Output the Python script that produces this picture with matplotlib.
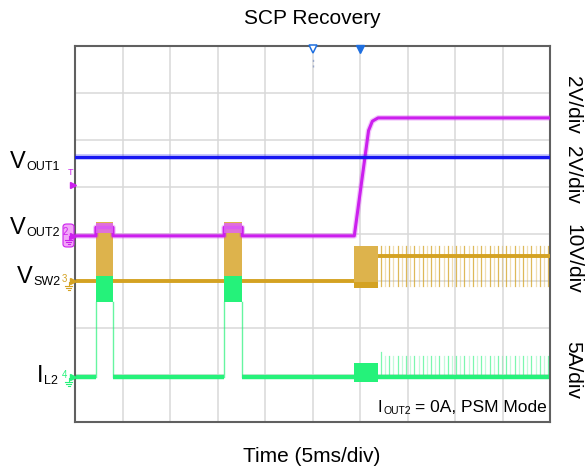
import numpy as np
import matplotlib.pyplot as plt
from matplotlib.patches import FancyBboxPatch
from matplotlib.lines import Line2D

plt.rcParams['font.family'] = ['Liberation Sans', 'DejaVu Sans']

W, H = 587, 471

# screen: 10 div x 5 ms, 8 vertical div
t_span = [0, 50]
v_span = [0, 8]

# trace levels, in divisions from the bottom of the screen
vout1_lvl = 5.64
vout2_lvl = 3.96
vout2_burst_lvl = 4.14
vout2_ramp_t = [29.4, 30.9, 31.3, 31.9, 50.0]
vout2_ramp_v = [3.96, 6.2, 6.4, 6.47, 6.47]
vsw2_lvl = 3.0
vsw2_after_lvl = 3.53
il2_lvl = 0.95

# hiccup bursts (ms)
burst_start = [2.2, 15.7]
burst_end = [4.0, 17.6]
sw_burst_top = 4.25
il_burst_lo, il_burst_hi = 2.55, 3.1

# recovery burst (ms) and its extents
rec_start, rec_end = 29.4, 31.9
sw_rec_lo, sw_rec_hi = 2.85, 3.74
il_rec_lo, il_rec_hi = 0.85, 1.25

# PSM pulses after recovery
psm_start, psm_period = 32.2, 0.44
sw_psm_lo, sw_psm_hi = 2.9, 3.75
il_psm_hi = 1.4

c_blue = '#1717F2'
c_mag = '#CC1FEE'
c_gold = '#D4A222'
c_gold_l = '#DDB34C'
c_green = '#25F27A'

fig = plt.figure(figsize=(W / 100, H / 100), dpi=100)
ax = fig.add_axes([75 / W, 1 - 422 / H, 475 / W, 376 / H])
ax.set_xlim(t_span)
ax.set_ylim(v_span)
ax.set_xticks(np.arange(0, 51, 5))
ax.set_yticks(np.arange(0, 9, 1))
ax.grid(True, color='#D9D9D9', lw=1.1)
ax.tick_params(length=0, labelbottom=False, labelleft=False)
for s in ax.spines.values():
    s.set_color('#606060')
    s.set_linewidth(1.5)
ax.set_axisbelow(True)

pulses = np.arange(psm_start, t_span[1], psm_period)
alphas = np.resize([0.75, 0.35], len(pulses))

# VSW2
ax.plot([0, rec_start], [vsw2_lvl, vsw2_lvl], color=c_gold, lw=2.8, zorder=2)
for s, e in zip(burst_start, burst_end):
    ax.fill_between([s, e], vsw2_lvl - 0.04, sw_burst_top, color=c_gold_l, lw=0, zorder=2)
ax.plot([rec_end, 50], [vsw2_after_lvl, vsw2_after_lvl], color=c_gold, lw=2.8, zorder=3)
for p, a in zip(pulses, alphas):
    ax.plot([p, p], [sw_psm_lo, sw_psm_hi], color=c_gold, lw=0.9, alpha=a, zorder=2)

# IL2
ax.plot([0, 50], [il2_lvl, il2_lvl], color=c_green, lw=3.2, zorder=2)
for s, e in zip(burst_start, burst_end):
    ax.fill_between([s, e], il_burst_lo, il_burst_hi, color=c_green, lw=0, zorder=3)
    ax.plot([s, s], [il2_lvl, il_burst_lo], color=c_green, lw=1, alpha=0.7, zorder=3)
    ax.plot([e, e], [il2_lvl, il_burst_lo], color=c_green, lw=1, alpha=0.7, zorder=3)
    ax.fill_between([s, e], il2_lvl - 0.1, il2_lvl + 0.1, color='white', lw=0, zorder=2.5)
ax.fill_between([rec_start, rec_end], il_rec_lo, il_rec_hi, color=c_green, lw=0, zorder=3)
for i, (p, a) in enumerate(zip(pulses, alphas)):
    top = il_psm_hi + 0.1 if i == 0 else il_psm_hi
    ax.plot([p, p], [il2_lvl, top], color=c_green, lw=0.9, alpha=a * 0.8, zorder=2)

# VOUT2
xs, ys = [0], [vout2_lvl]
for s, e in zip(burst_start, burst_end):
    xs += [s, s, e, e]
    ys += [vout2_lvl, vout2_burst_lvl, vout2_burst_lvl, vout2_lvl]
xs += vout2_ramp_t
ys += vout2_ramp_v
ax.plot(xs, ys, color=c_mag, lw=2.2, zorder=4)
ax.plot(xs, ys, color=c_mag, lw=4, alpha=0.25, zorder=4)
for s, e in zip(burst_start, burst_end):
    ax.fill_between([s, e], 4.03, 4.24, color='#E066F2', lw=0, alpha=0.85, zorder=4)

# recovery switching burst sits on top
ax.fill_between([rec_start, rec_end], sw_rec_lo, sw_rec_hi, color=c_gold_l, lw=0, zorder=5)
ax.fill_between([rec_start, rec_end], sw_rec_lo, sw_rec_lo + 0.12, color=c_gold, lw=0, zorder=5)

# VOUT1
ax.plot([0, 50], [vout1_lvl, vout1_lvl], color=c_blue, lw=4, alpha=0.3, zorder=6)
ax.plot([0, 50], [vout1_lvl, vout1_lvl], color=c_blue, lw=2.2, zorder=6)

# trigger markers at top
ax.plot([25], [7.94], marker='v', ms=6, mfc='white', mec='#1E6FE0', mew=1.1, clip_on=False, zorder=7)
ax.plot([30], [7.94], marker='v', ms=6, color='#1E6FE0', clip_on=False, zorder=7)
ax.plot([25, 25], [7.55, 7.75], color='#9AA8C8', lw=1, ls=(0, (1.5, 2.5)), zorder=7)


def fx(px):
    return px / W


def fy(py):
    return 1 - py / H


def ground(px, py, color):
    fig.add_artist(Line2D([fx(px), fx(px)], [fy(py), fy(py + 4)], color=color, lw=0.8))
    for dy, hw in ((4, 3.5), (6, 2.2), (8, 1)):
        fig.add_artist(Line2D([fx(px - hw), fx(px + hw)], [fy(py + dy), fy(py + dy)], color=color, lw=0.8))


def marker(px, py, color):
    fig.add_artist(Line2D([fx(px)], [fy(py)], marker='>', ms=5, color=color, lw=0))


# channel markers on the left edge
fig.text(fx(71), fy(173), 'T', color=c_mag, fontsize=6.5, ha='center', va='center')
marker(73, 185, c_mag)
fig.add_artist(FancyBboxPatch((fx(63), fy(247)), fx(11), 23 / H,
                              boxstyle='round,pad=0,rounding_size=0.006',
                              fc='#F2A6F8', ec=c_mag, lw=0.8))
fig.text(fx(65.5), fy(232), '2', color=c_mag, fontsize=7, ha='center', va='center')
ground(68.5, 236, c_mag)
marker(73, 236, c_mag)
fig.text(fx(64.5), fy(279), '3', color=c_gold, fontsize=7, ha='center', va='center')
ground(68.5, 282, c_gold)
marker(73, 281, c_gold)
fig.text(fx(64.5), fy(375), '4', color=c_green, fontsize=7, ha='center', va='center')
ground(68.5, 378, c_green)
marker(73, 377, c_green)


def label(px, py, main, sub, size=17, subsize=9):
    t = fig.text(fx(px), fy(py), main, fontsize=size, ha='left', va='baseline')
    fig.canvas.draw()
    bb = t.get_window_extent()
    fig.text(bb.x1 / W + 0.5 / W, fy(py + 2), sub, fontsize=subsize, ha='left', va='baseline')


label(10, 168, 'V', 'OUT1')
label(10, 234, 'V', 'OUT2')
label(17, 283, 'V', 'SW2')
label(37, 382, 'I', 'L2')
label(378, 412, 'I', 'OUT2', size=12, subsize=7.5)
fig.text(fx(415), fy(412), '= 0A, PSM Mode', fontsize=12.5, ha='left', va='baseline')

# per-channel scale labels
for yc, s in zip([105, 175, 259, 370], ['2V/div', '2V/div', '10V/div', '5A/div']):
    fig.text(fx(573), fy(yc), s, fontsize=15, rotation=-90, ha='center', va='center')

fig.text(fx(312), fy(18), 'SCP Recovery', fontsize=15, ha='center', va='center')
fig.text(fx(312), fy(457), 'Time (5ms/div)', fontsize=15, ha='center', va='center')

fig.savefig('out.png', dpi=100)
